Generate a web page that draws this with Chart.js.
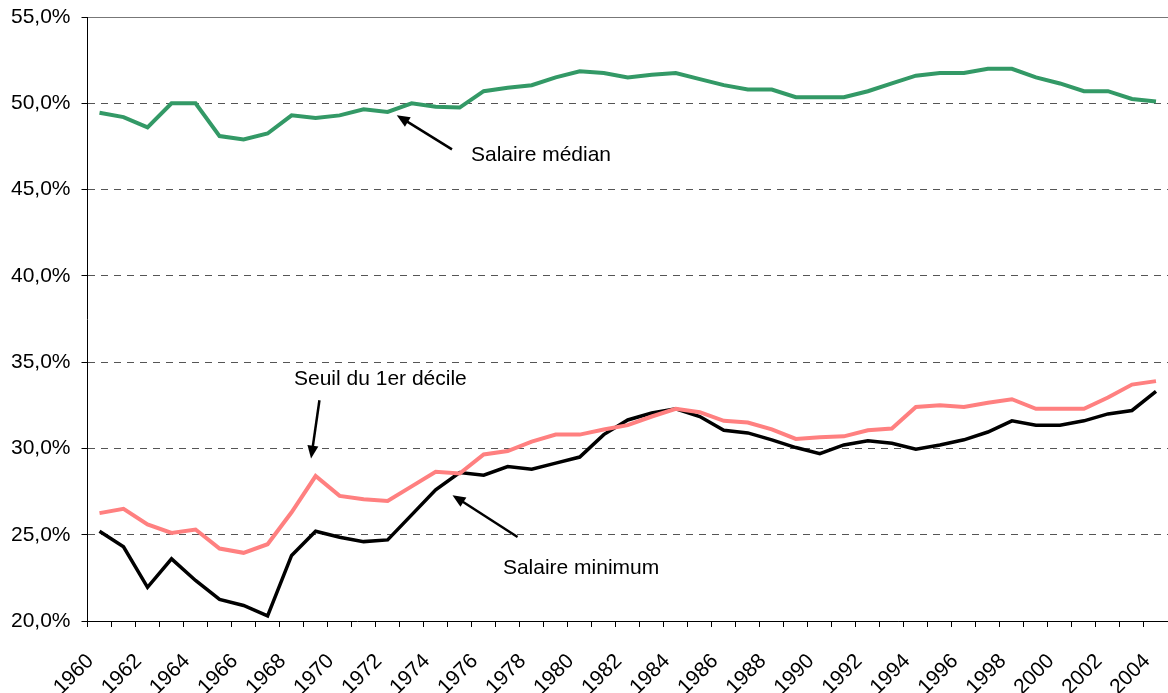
<!DOCTYPE html>
<html>
<head>
<meta charset="utf-8">
<script src="https://cdn.jsdelivr.net/npm/chart.js@4.4.1/dist/chart.umd.min.js"></script>
<style>
  html, body { margin: 0; padding: 0; background: #fff; }
  #wrap { width: 1168px; height: 693px; position: relative; }
</style>
</head>
<body>
<div id="wrap"><canvas id="salaryChart"></canvas></div>
<script>
const years = [
  "1960", "1961", "1962", "1963", "1964", "1965", "1966", "1967", "1968", "1969",
  "1970", "1971", "1972", "1973", "1974", "1975", "1976", "1977", "1978", "1979",
  "1980", "1981", "1982", "1983", "1984", "1985", "1986", "1987", "1988", "1989",
  "1990", "1991", "1992", "1993", "1994", "1995", "1996", "1997", "1998", "1999",
  "2000", "2001", "2002", "2003", "2004",
];

// values in % of the mean wage
const salaireMedian = [
  49.45, 49.2, 48.6, 50.0, 50.0, 48.1, 47.9, 48.25, 49.3, 49.15,
  49.3, 49.65, 49.5, 50.0, 49.8, 49.75, 50.7, 50.9, 51.05, 51.5,
  51.85, 51.75, 51.5, 51.65, 51.75, 51.4, 51.05, 50.8, 50.8, 50.35,
  50.35, 50.35, 50.7, 51.15, 51.6, 51.75, 51.75, 52.0, 52.0, 51.5,
  51.15, 50.7, 50.7, 50.25, 50.1,
];
const seuilDecile = [
  26.25, 26.5, 25.6, 25.1, 25.3, 24.2, 23.95, 24.45, 26.3, 28.4,
  27.25, 27.05, 26.95, 27.8, 28.65, 28.55, 29.65, 29.85, 30.4, 30.8,
  30.8, 31.1, 31.35, 31.85, 32.3, 32.1, 31.6, 31.5, 31.1, 30.55,
  30.65, 30.7, 31.05, 31.15, 32.4, 32.5, 32.4, 32.65, 32.85, 32.3,
  32.3, 32.3, 32.95, 33.7, 33.9,
];
const salaireMinimum = [
  25.2, 24.3, 21.95, 23.6, 22.35, 21.25, 20.9, 20.3, 23.8, 25.2,
  24.85, 24.6, 24.7, 26.15, 27.6, 28.6, 28.45, 28.95, 28.8, 29.15,
  29.5, 30.8, 31.65, 32.05, 32.3, 31.85, 31.05, 30.9, 30.5, 30.05,
  29.7, 30.2, 30.45, 30.3, 29.95, 30.2, 30.5, 30.95, 31.6, 31.35,
  31.35, 31.6, 32.0, 32.2, 33.3,
];

// callouts, positioned in data units (category index, %)
const callouts = [
  { text: "Salaire médian", at: [15.47, 47.0], from: [14.68, 47.33], to: [12.38, 49.31] },
  { text: "Seuil du 1er décile", at: [8.1, 34.0], from: [9.16, 32.79], to: [8.81, 29.41] },
  { text: "Salaire minimum", at: [16.8, 23.06], from: [17.41, 24.87], to: [14.7, 27.29] },
];

const FONT = "'Liberation Sans', Arial, sans-serif";

const calloutPlugin = {
  id: "callouts",
  afterDatasetsDraw(chart) {
    const { ctx, scales: { x, y } } = chart;
    ctx.save();
    ctx.fillStyle = "#000";
    ctx.strokeStyle = "#000";
    ctx.font = "21px " + FONT;
    ctx.textAlign = "left";
    ctx.textBaseline = "middle";
    callouts.forEach((c) => {
      ctx.fillText(c.text, x.getPixelForValue(c.at[0]), y.getPixelForValue(c.at[1]));
      const x1 = x.getPixelForValue(c.from[0]);
      const y1 = y.getPixelForValue(c.from[1]);
      const x2 = x.getPixelForValue(c.to[0]);
      const y2 = y.getPixelForValue(c.to[1]);
      const ang = Math.atan2(y2 - y1, x2 - x1);
      const head = 13;
      const half = 5.5;
      ctx.lineWidth = 2.5;
      ctx.beginPath();
      ctx.moveTo(x1, y1);
      ctx.lineTo(x2 - Math.cos(ang) * head * 0.8, y2 - Math.sin(ang) * head * 0.8);
      ctx.stroke();
      ctx.beginPath();
      ctx.moveTo(x2, y2);
      ctx.lineTo(x2 - head * Math.cos(ang) + half * Math.sin(ang), y2 - head * Math.sin(ang) - half * Math.cos(ang));
      ctx.lineTo(x2 - head * Math.cos(ang) - half * Math.sin(ang), y2 - head * Math.sin(ang) + half * Math.cos(ang));
      ctx.closePath();
      ctx.fill();
    });
    ctx.restore();
  },
};

const ctx = document.getElementById("salaryChart").getContext("2d");
new Chart(ctx, {
  type: "line",
  data: {
    labels: years,
    datasets: [
      {
        label: "Salaire médian",
        data: salaireMedian,
        borderColor: "#339966",
        borderWidth: 4,
        pointRadius: 0,
        tension: 0,
      },
      {
        label: "Seuil du 1er décile",
        data: seuilDecile,
        borderColor: "#ff8080",
        borderWidth: 4,
        pointRadius: 0,
        tension: 0,
      },
      {
        label: "Salaire minimum",
        data: salaireMinimum,
        borderColor: "#000000",
        borderWidth: 3.5,
        pointRadius: 0,
        tension: 0,
      },
    ],
  },
  options: {
    responsive: true,
    maintainAspectRatio: false,
    animation: false,
    layout: { padding: { top: 17, right: 0, bottom: 0, left: 0 } },
    plugins: {
      legend: { display: false },
      tooltip: { enabled: false },
    },
    scales: {
      x: {
        offset: true,
        afterFit: (axis) => {
          axis.height = 72;
          axis.paddingLeft = 0;
          axis.paddingRight = 0;
        },
        grid: {
          offset: true,
          drawOnChartArea: false,
          drawTicks: true,
          tickLength: 6,
          tickColor: "#000",
        },
        border: { color: "#000", width: 1 },
        ticks: {
          autoSkip: false,
          minRotation: 45,
          maxRotation: 45,
          padding: 22,
          labelOffset: -9,
          color: "#000",
          font: { family: FONT, size: 21 },
          callback: (v, i) => (i % 2 === 0 ? years[i] : ""),
        },
      },
      y: {
        min: 20,
        max: 55,
        afterFit: (axis) => {
          axis.width = 87.5;
          axis.paddingTop = 0;
          axis.paddingBottom = 0;
        },
        grid: {
          color: (c) => (c.tick && c.tick.value === 55 ? "#777" : "#555"),
          lineWidth: 1,
          drawTicks: true,
          tickLength: 6,
          tickColor: "#000",
        },
        border: {
          color: "#000",
          width: 1,
          dash: (c) => (c.tick && c.tick.value === 55 ? [] : [7, 6]),
        },
        ticks: {
          stepSize: 5,
          padding: 11,
          color: "#000",
          font: { family: FONT, size: 21 },
          callback: (v) => v.toFixed(1).replace(".", ",") + "%",
        },
      },
    },
  },
  plugins: [calloutPlugin],
});
</script>
</body>
</html>
